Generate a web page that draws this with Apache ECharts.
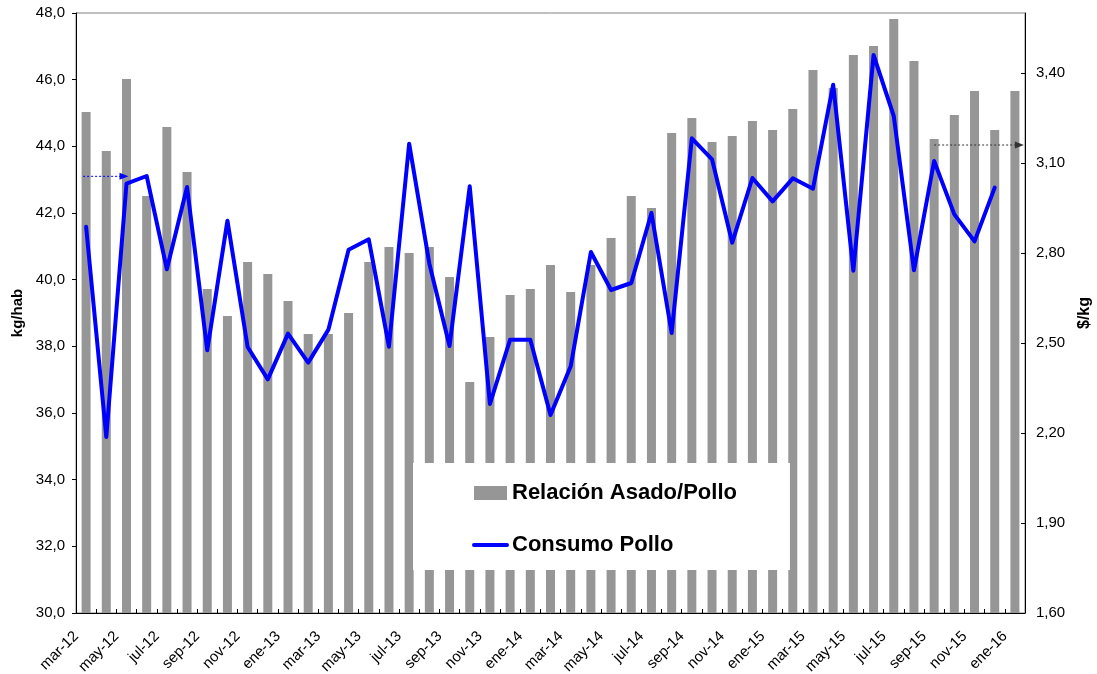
<!DOCTYPE html>
<html>
<head>
<meta charset="utf-8">
<script src="https://cdn.jsdelivr.net/npm/echarts@6/dist/echarts.min.js"></script>
<style>
  html, body { margin: 0; padding: 0; background: #fff; }
  #chart { width: 1097px; height: 674px; }
</style>
</head>
<body>
<div id="chart"></div>
<script>
// meses mar-12 .. ene-16
var meses = ["mar-12", "abr-12", "may-12", "jun-12", "jul-12", "ago-12", "sep-12", "oct-12", "nov-12", "dic-12",
  "ene-13", "feb-13", "mar-13", "abr-13", "may-13", "jun-13", "jul-13", "ago-13", "sep-13", "oct-13", "nov-13", "dic-13",
  "ene-14", "feb-14", "mar-14", "abr-14", "may-14", "jun-14", "jul-14", "ago-14", "sep-14", "oct-14", "nov-14", "dic-14",
  "ene-15", "feb-15", "mar-15", "abr-15", "may-15", "jun-15", "jul-15", "ago-15", "sep-15", "oct-15", "nov-15", "dic-15",
  "ene-16"];

// Relación Asado/Pollo ($/kg, eje derecho)
var relacionAsadoPollo = [3.27, 3.14, 3.38, 2.99, 3.22, 3.07, 2.68, 2.59, 2.77, 2.73,
  2.64, 2.53, 2.53, 2.60, 2.77, 2.82, 2.80, 2.82, 2.72, 2.37, 2.52, 2.66,
  2.68, 2.76, 2.67, 2.76, 2.85, 2.99, 2.95, 3.20, 3.25, 3.17, 3.19, 3.24,
  3.21, 3.28, 3.41, 3.35, 3.46, 3.49, 3.58, 3.44, 3.18, 3.26, 3.34, 3.21,
  3.34];

// Consumo Pollo (kg/hab, eje izquierdo)
var consumoPollo = [41.59, 35.28, 42.88, 43.11, 40.31, 42.78, 37.88, 41.77, 37.98, 37.01,
  38.38, 37.51, 38.50, 40.90, 41.21, 37.99, 44.08, 40.48, 38.01, 42.80, 36.27, 38.20,
  38.20, 35.94, 37.40, 40.83, 39.69, 39.90, 42.00, 38.40, 44.24, 43.61, 41.11, 43.05,
  42.35, 43.04, 42.73, 45.85, 40.27, 46.74, 44.91, 40.28, 43.56, 41.96, 41.15, 42.76,
  null];

var font = "'Liberation Sans', Arial, sans-serif";

function coma(v, d) {
  return v.toFixed(d).replace(".", ",");
}

var chart = echarts.init(document.getElementById("chart"));

var option = {
  animation: false,
  backgroundColor: "#fff",
  textStyle: { fontFamily: font },
  grid: {
    left: 76,
    right: 72,
    top: 13,
    bottom: 61,
    outerBoundsMode: "none",
    containLabel: false,
    show: true,
    borderColor: "#808080",
    borderWidth: 1
  },
  legend: {
    orient: "vertical",
    left: 413,
    top: 463,
    backgroundColor: "#fff",
    padding: [19, 53, 14, 59],
    itemWidth: 33,
    itemHeight: 14,
    itemGap: 30,
    textStyle: {
      fontFamily: font,
      fontSize: 22,
      fontWeight: "bold",
      color: "#000",
      lineHeight: 14
    },
    data: [
      { name: "Relación Asado/Pollo", icon: "rect" },
      // solo la línea, sin el círculo
      {
        name: "Consumo Pollo",
        itemStyle: { color: "rgba(0,0,0,0)", borderColor: "rgba(0,0,0,0)", borderWidth: 0 },
        lineStyle: { width: 4, color: "#0000ff" }
      }
    ]
  },
  xAxis: {
    type: "category",
    data: meses,
    boundaryGap: true,
    axisLine: { lineStyle: { color: "#000", width: 1 } },
    axisTick: { show: true, inside: true, length: 4, interval: 0, lineStyle: { color: "#000" } },
    axisLabel: {
      interval: 1,
      rotate: 45,
      fontSize: 15,
      color: "#000",
      fontFamily: font,
      margin: 11,
      padding: [0, 14, 0, 0]
    },
    splitLine: { show: false }
  },
  yAxis: [
    {
      type: "value",
      min: 30,
      max: 48,
      interval: 2,
      name: "kg/hab",
      nameLocation: "middle",
      nameRotate: 90,
      nameGap: 50,
      nameTextStyle: { fontFamily: font, fontSize: 15, fontWeight: "bold", color: "#000" },
      axisLine: { show: true, lineStyle: { color: "#000", width: 1 } },
      axisTick: { show: true, inside: false, length: 4, lineStyle: { color: "#000" } },
      axisLabel: {
        fontSize: 15,
        color: "#000",
        fontFamily: font,
        margin: 11,
        formatter: function (v) { return coma(v, 1); }
      },
      splitLine: { show: false }
    },
    {
      type: "value",
      min: 1.6,
      max: 3.6,
      interval: 0.3,
      position: "right",
      name: "$/kg",
      nameLocation: "middle",
      nameRotate: 90,
      nameGap: 49,
      nameTextStyle: { fontFamily: font, fontSize: 16, fontWeight: "bold", color: "#000" },
      axisLine: { show: true, lineStyle: { color: "#000", width: 1 } },
      axisTick: { show: true, inside: true, length: 4, lineStyle: { color: "#000" } },
      axisLabel: {
        fontSize: 15,
        color: "#000",
        fontFamily: font,
        margin: 11,
        showMaxLabel: false,
        formatter: function (v) { return coma(v, 2); }
      },
      splitLine: { show: false }
    }
  ],
  series: [
    {
      name: "Relación Asado/Pollo",
      type: "bar",
      yAxisIndex: 1,
      barWidth: 9,
      itemStyle: { color: "#969696" },
      data: relacionAsadoPollo
    },
    {
      name: "Consumo Pollo",
      type: "line",
      yAxisIndex: 0,
      symbol: "none",
      lineStyle: { color: "#0000ff", width: 4, join: "round", cap: "round" },
      itemStyle: { color: "#0000ff" },
      data: consumoPollo,
      z: 3
    }
  ]
};

chart.setOption(option);

// flechas punteadas que indican a qué eje corresponde cada serie
function flecha(x1, x2, y, color) {
  return [
    {
      type: "line",
      z: 100,
      shape: { x1: x1, y1: y, x2: x2 - 8, y2: y },
      style: { stroke: color, lineWidth: 1, lineDash: [2, 2] }
    },
    {
      type: "polygon",
      z: 100,
      shape: { points: [[x2 - 9, y - 3.5], [x2, y], [x2 - 9, y + 3.5]] },
      style: { fill: color }
    }
  ];
}

var yAzul = chart.convertToPixel({ yAxisIndex: 0 }, 43.1);
var xAzul1 = chart.convertToPixel({ xAxisIndex: 0 }, 0) - 3;
var xAzul2 = chart.convertToPixel({ xAxisIndex: 0 }, 2) + 2;
var yGris = chart.convertToPixel({ yAxisIndex: 1 }, 3.16);
var xGris1 = chart.convertToPixel({ xAxisIndex: 0 }, 42);
var xGris2 = chart.convertToPixel({ xAxisIndex: 0 }, 46) + 9;

chart.setOption({
  graphic: flecha(xAzul1, xAzul2, yAzul, "#0000ff").concat(flecha(xGris1, xGris2, yGris, "#333333"))
});
</script>
</body>
</html>
